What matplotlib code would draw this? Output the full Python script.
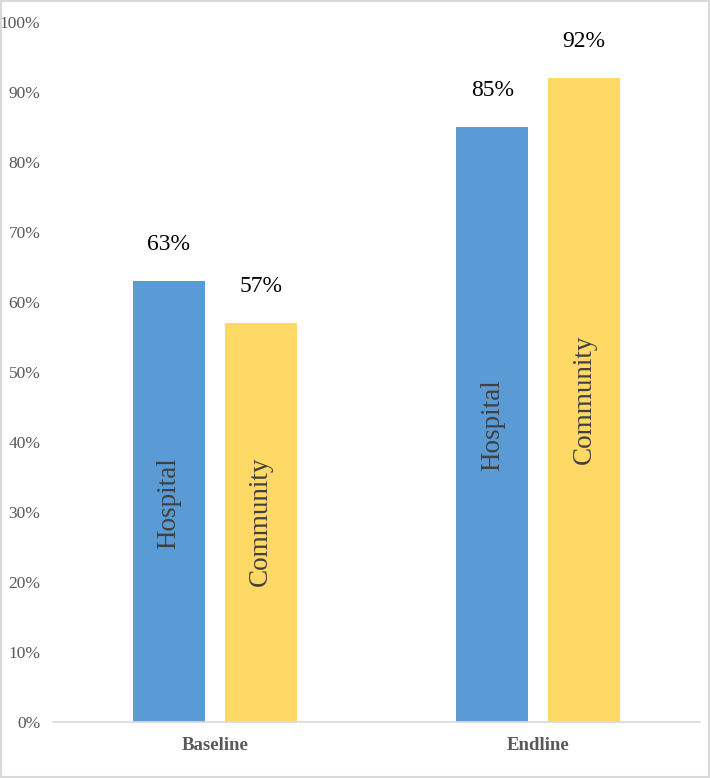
import numpy as np
import matplotlib.pyplot as plt

groups = ['Baseline', 'Endline']
series = ['Hospital', 'Community']
hospital = [63, 85]
community = [57, 92]
# vertical position (in %) of the series name written inside each bar
hospital_name_pos = [31.3, 42.4]
community_name_pos = [28.6, 46.1]

colors = ['#5B9BD5', '#FFD966']
serif = ['Liberation Serif', 'DejaVu Serif']

fig = plt.figure(figsize=(7.1, 7.78), dpi=100)
ax = fig.add_axes([0.0746, 0.072, 0.9114, 0.9])

x = np.arange(len(groups))
w = 0.223
off = 0.142
values = [hospital, community]
name_pos = [hospital_name_pos, community_name_pos]
for k, (vals, npos) in enumerate(zip(values, name_pos)):
    xs = x + (-off if k == 0 else off)
    ax.bar(xs, vals, width=w, color=colors[k], zorder=2)
    for xi, v, p in zip(xs, vals, npos):
        ax.text(xi, v + 5.2, '{}%'.format(v), ha='center', va='center',
                fontsize=17, family=serif, color='black')
        ax.text(xi, p, series[k], rotation=90, ha='center', va='center',
                fontsize=19.5, family=serif, color='#404040')

ax.set_xlim(-0.5, 1.5)
ax.set_ylim(0, 100)
ax.set_yticks(range(0, 101, 10))
ax.set_yticklabels(['{}%'.format(t) for t in range(0, 101, 10)],
                   family=serif, fontsize=12.5, color='#595959')
ax.set_xticks(x)
ax.set_xticklabels(groups, family=serif, fontsize=13.5, fontweight='bold',
                   color='#595959')
ax.tick_params(axis='both', length=0)
ax.tick_params(axis='y', pad=9)
ax.tick_params(axis='x', pad=11)
for s in ['top', 'right', 'left']:
    ax.spines[s].set_visible(False)
ax.spines['bottom'].set_color('#D9D9D9')
ax.spines['bottom'].set_linewidth(1.2)

fig.patches.append(plt.Rectangle((0.001, 0.001), 0.998, 0.998, transform=fig.transFigure,
                                 fill=False, edgecolor='#D9D9D9', linewidth=1.5))

plt.savefig('out.png', dpi=100)
